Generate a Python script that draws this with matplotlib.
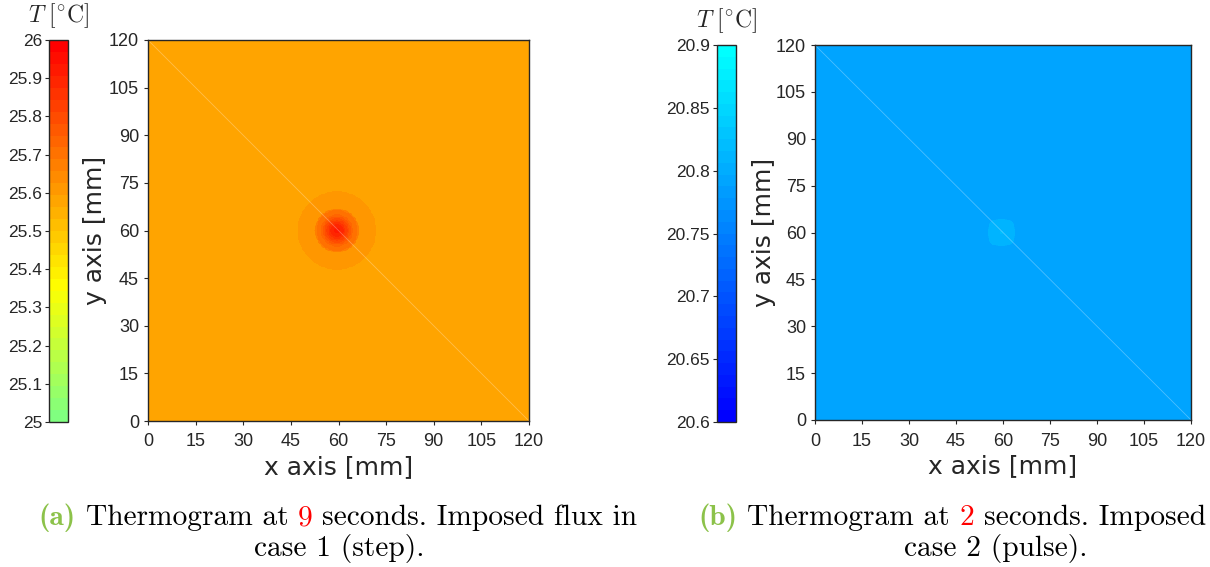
import numpy as np
import matplotlib
matplotlib.use('Agg')
import matplotlib.pyplot as plt
from matplotlib.colors import LinearSegmentedColormap

plt.rcParams['mathtext.fontset'] = 'cm'
plt.rcParams['font.family'] = ['Liberation Sans', 'DejaVu Sans']

# radial temperature profiles (hot spot centred at 60,60 mm)
radius_a = [0, 2, 3.5, 5, 6.8, 7.0, 12.3, 12.4, 90]
temp_a = [25.93, 25.88, 25.80, 25.72, 25.68, 25.625, 25.615, 25.585, 25.585]
radius_b = [0, 3.5, 4.3, 4.4, 90]
temp_b = [20.816, 20.813, 20.806, 20.788, 20.788]
centre = (59.5, 60.0)

ticks_xy = [0, 15, 30, 45, 60, 75, 90, 105, 120]
cb_ticks_a = [25, 25.1, 25.2, 25.3, 25.4, 25.5, 25.6, 25.7, 25.8, 25.9, 26]
cb_ticks_b = [20.6, 20.65, 20.7, 20.75, 20.8, 20.85, 20.9]
cb_labels_b = ['20.6', '20.65', '20.7', '20.75', '20.8', '20.85', '20.9']

W, H = 1210, 567
fig = plt.figure(figsize=(W / 100, H / 100), dpi=100)

cmap_a = LinearSegmentedColormap.from_list(
    'grn_yel_red', [(0.0, (0.5, 1.0, 0.5)), (0.35, (1.0, 1.0, 0.0)), (1.0, (1.0, 0.0, 0.0))], N=32)
cmap_b = LinearSegmentedColormap.from_list('blu_cyan', [(0, 0, 1), (0, 1, 1)], N=32)

g = np.linspace(0, 120, 481)
X, Y = np.meshgrid(g, g)
R = np.hypot(X - centre[0], Y - centre[1])
field_a = np.interp(R, radius_a, temp_a)
Rb = (np.abs(X - centre[0]) ** 3 + np.abs(Y - centre[1]) ** 3) ** (1 / 3)
field_b = np.interp(Rb, radius_b, temp_b)

dark = (0.15, 0.15, 0.15)


def px(l, b, r, t):
    return [l / W, 1 - b / H, (r - l) / W, (b - t) / H]


def panel(ax_box, cb_box, field, cmap, vmin, vmax, cticks, clabels, ylab_x):
    ax = fig.add_axes(px(*ax_box))
    im = ax.imshow(field, origin='lower', extent=[0, 120, 0, 120], cmap=cmap,
                   vmin=vmin, vmax=vmax, interpolation='nearest', aspect='auto')
    ax.plot([0, 120], [120, 0], color='white', lw=0.6, alpha=0.3)
    ax.set_xlim(0, 120)
    ax.set_ylim(0, 120)
    ax.set_xticks(ticks_xy)
    ax.set_yticks(ticks_xy)
    ax.tick_params(labelsize=13, colors=dark, length=3, width=0.8)
    ax.tick_params(axis='x', pad=6)
    for s in ax.spines.values():
        s.set_color(dark)
        s.set_linewidth(1.0)
    ax.set_xlabel('x axis [mm]', family='DejaVu Sans', fontsize=18, color=dark, labelpad=3)
    ax.set_ylabel('y axis [mm]', family='DejaVu Sans', fontsize=18, color=dark)
    ax.yaxis.set_label_coords(ylab_x, 0.5)

    cax = fig.add_axes(px(*cb_box))
    cb = fig.colorbar(im, cax=cax, ticks=cticks)
    cax.yaxis.set_ticks_position('left')
    cax.set_yticklabels(clabels)
    cax.tick_params(labelsize=12.5, colors=dark, length=3, width=0.8, pad=2)
    cb.outline.set_edgecolor(dark)
    cb.outline.set_linewidth(1.0)
    cax.set_title(r'$T\ [^{\circ}\mathrm{C}]$', fontsize=17, color=dark, pad=13)
    return ax


panel((148, 421, 529, 40), (49, 422, 68, 40), field_a, cmap_a, 25, 26,
      cb_ticks_a, [f'{v:g}' for v in cb_ticks_a], -0.108)
panel((815, 420, 1191, 45), (717, 422, 736, 45), field_b, cmap_b, 20.6, 20.9,
      cb_ticks_b, cb_labels_b, -0.104)

# captions, drawn piece by piece so the colours can change inside a line
green = (0.55, 0.76, 0.29)
fig.canvas.draw()
renderer = fig.canvas.get_renderer()
CAP = 21.2


def width_of(s, fam):
    t = fig.text(0, 0, s, family=fam, size=CAP)
    w = t.get_window_extent(renderer).width
    t.remove()
    return w


gap = width_of('x x', 'cmr10') - width_of('xx', 'cmr10')


def caption_line(pieces, y, centre_x):
    texts = []
    total = 0
    for s, color, fam in pieces:
        t = fig.text(0, 1 - y / H, s, color=color, family=fam, size=CAP)
        w = t.get_window_extent(renderer).width
        texts.append((t, w))
        total += w
    total += gap * (len(pieces) - 1)
    x = centre_x - total / 2
    for t, w in texts:
        t.set_x(x / W)
        x += w + gap


caption_line([('(a)', green, 'cmb10'), ('Thermogram at', 'black', 'cmr10'),
              ('9', 'red', 'cmr10'), ('seconds. Imposed flux in', 'black', 'cmr10')],
             525, centre_x=338)
caption_line([('case 1 (step).', 'black', 'cmr10')], 556, centre_x=339)
caption_line([('(b)', green, 'cmb10'), ('Thermogram at', 'black', 'cmr10'),
              ('2', 'red', 'cmr10'), ('seconds. Imposed', 'black', 'cmr10')],
             525, centre_x=952)
caption_line([('case 2 (pulse).', 'black', 'cmr10')], 556, centre_x=996)

fig.savefig('out.png', dpi=100)
